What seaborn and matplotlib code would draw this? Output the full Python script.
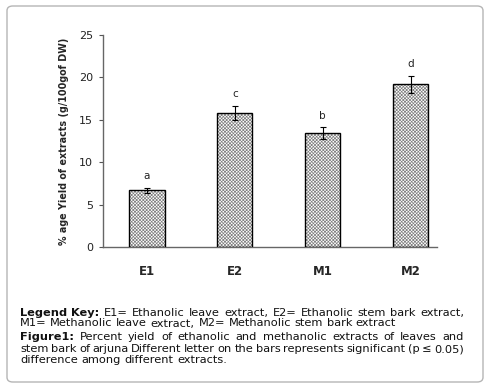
import numpy as np
import pandas as pd
import matplotlib
matplotlib.use("Agg")
import matplotlib.pyplot as plt
from matplotlib.patches import Rectangle, FancyBboxPatch
import seaborn as sns

extracts = ["E1", "E2", "M1", "M2"]
yield_pct = [6.7, 15.8, 13.4, 19.2]
yield_err = [0.3, 0.8, 0.7, 1.0]
sig_letters = ["a", "c", "b", "d"]

legend_lines = [
    ("Legend Key:", "E1= Ethanolic leave extract, E2= Ethanolic stem bark extract,", True),
    ("", "M1= Methanolic leave extract, M2= Methanolic stem bark extract", False),
]
caption_lines = [
    ("Figure1:", "Percent yield of ethanolic and methanolic extracts of leaves and", True),
    ("", "stem bark of arjuna Different letter on the bars represents significant (p \u2264 0.05)", True),
    ("", "difference among different extracts.", False),
]

sns.set_style("white")
plt.rcParams["font.family"] = ["DejaVu Sans"]
plt.rcParams["hatch.linewidth"] = 0.5

df = pd.DataFrame({"extract": extracts, "yield": yield_pct})

fig = plt.figure(figsize=(4.85, 3.89), dpi=100)
# axes box: x 103..437 px, y 35..247 px
ax = fig.add_axes([103 / 485, 1 - 247 / 389, 334 / 485, 212 / 389])

sns.barplot(data=df, x="extract", y="yield", color="white", width=0.4,
            errorbar=None, ax=ax)
for p in list(ax.patches):
    p.set_hatch("xxxxxxxxxx")
    p.set_edgecolor("#808080")
    p.set_linewidth(0)
    ax.add_patch(Rectangle(p.get_xy(), p.get_width(), p.get_height(),
                           fill=False, edgecolor="black", linewidth=1.0, zorder=3))

xs = np.arange(len(extracts))
ax.errorbar(xs, yield_pct, yerr=yield_err, fmt="none", ecolor="black",
            elinewidth=0.8, capsize=2, capthick=0.8, zorder=4)
for x, v, e, s in zip(xs, yield_pct, yield_err, sig_letters):
    ax.text(x, v + e + 1.4, s, ha="center", va="center", fontsize=7.5, color="#222222")

ax.set_xlim(-0.5, 3.3)
ax.set_ylim(0, 25)
ax.set_yticks([0, 5, 10, 15, 20, 25])
ax.set_xlabel("")
ax.set_ylabel("% age Yield of extracts (g/100gof DW)", fontsize=6.9,
              fontweight="bold", labelpad=7)
ax.tick_params(axis="y", labelsize=8, length=3, width=0.8, direction="out",
               left=True, color="#555555", pad=4, labelcolor="#222222")
ax.tick_params(axis="x", labelsize=8.5, length=0, pad=13)
for lbl in ax.get_xticklabels():
    lbl.set_fontweight("bold")
for side in ["top", "right"]:
    ax.spines[side].set_visible(False)
for side in ["left", "bottom"]:
    ax.spines[side].set_color("#666666")
    ax.spines[side].set_linewidth(1.0)

fig.patches.append(FancyBboxPatch((7 / 485, 7 / 389), 476 / 485, 376 / 389,
                                  boxstyle="round,pad=0,rounding_size=0.012",
                                  transform=fig.transFigure, fill=False,
                                  edgecolor="#b5b5b5", linewidth=1.0))

# justified caption text
renderer = fig.canvas.get_renderer()
x_left, x_right = 20, 464
fs = 8.2


def draw_line(prefix, body, justify, y_px):
    words = []
    if prefix:
        words += [(w, "bold") for w in prefix.split()]
    words += [(w, "normal") for w in body.split()]
    texts = []
    for w, wt in words:
        t = fig.text(0, 1 - y_px / 389, w, fontsize=fs, fontweight=wt,
                     va="center", ha="left", color="#111111")
        texts.append(t)
    widths = [t.get_window_extent(renderer).width for t in texts]
    t1 = fig.text(0, 0, "a a", fontsize=fs)
    t2 = fig.text(0, 0, "aa", fontsize=fs)
    space = t1.get_window_extent(renderer).width - t2.get_window_extent(renderer).width
    t1.remove()
    t2.remove()
    if justify and len(texts) > 1:
        gap = (x_right - x_left - sum(widths)) / (len(texts) - 1)
    else:
        gap = space
    x = x_left
    for t, w in zip(texts, widths):
        t.set_x(x / 485)
        x += w + gap


for (pre, body, just), y in zip(legend_lines, [313, 323.5]):
    draw_line(pre, body, just, y)
for (pre, body, just), y in zip(caption_lines, [337.5, 349, 360]):
    draw_line(pre, body, just, y)

fig.savefig("out.png", dpi=100)
